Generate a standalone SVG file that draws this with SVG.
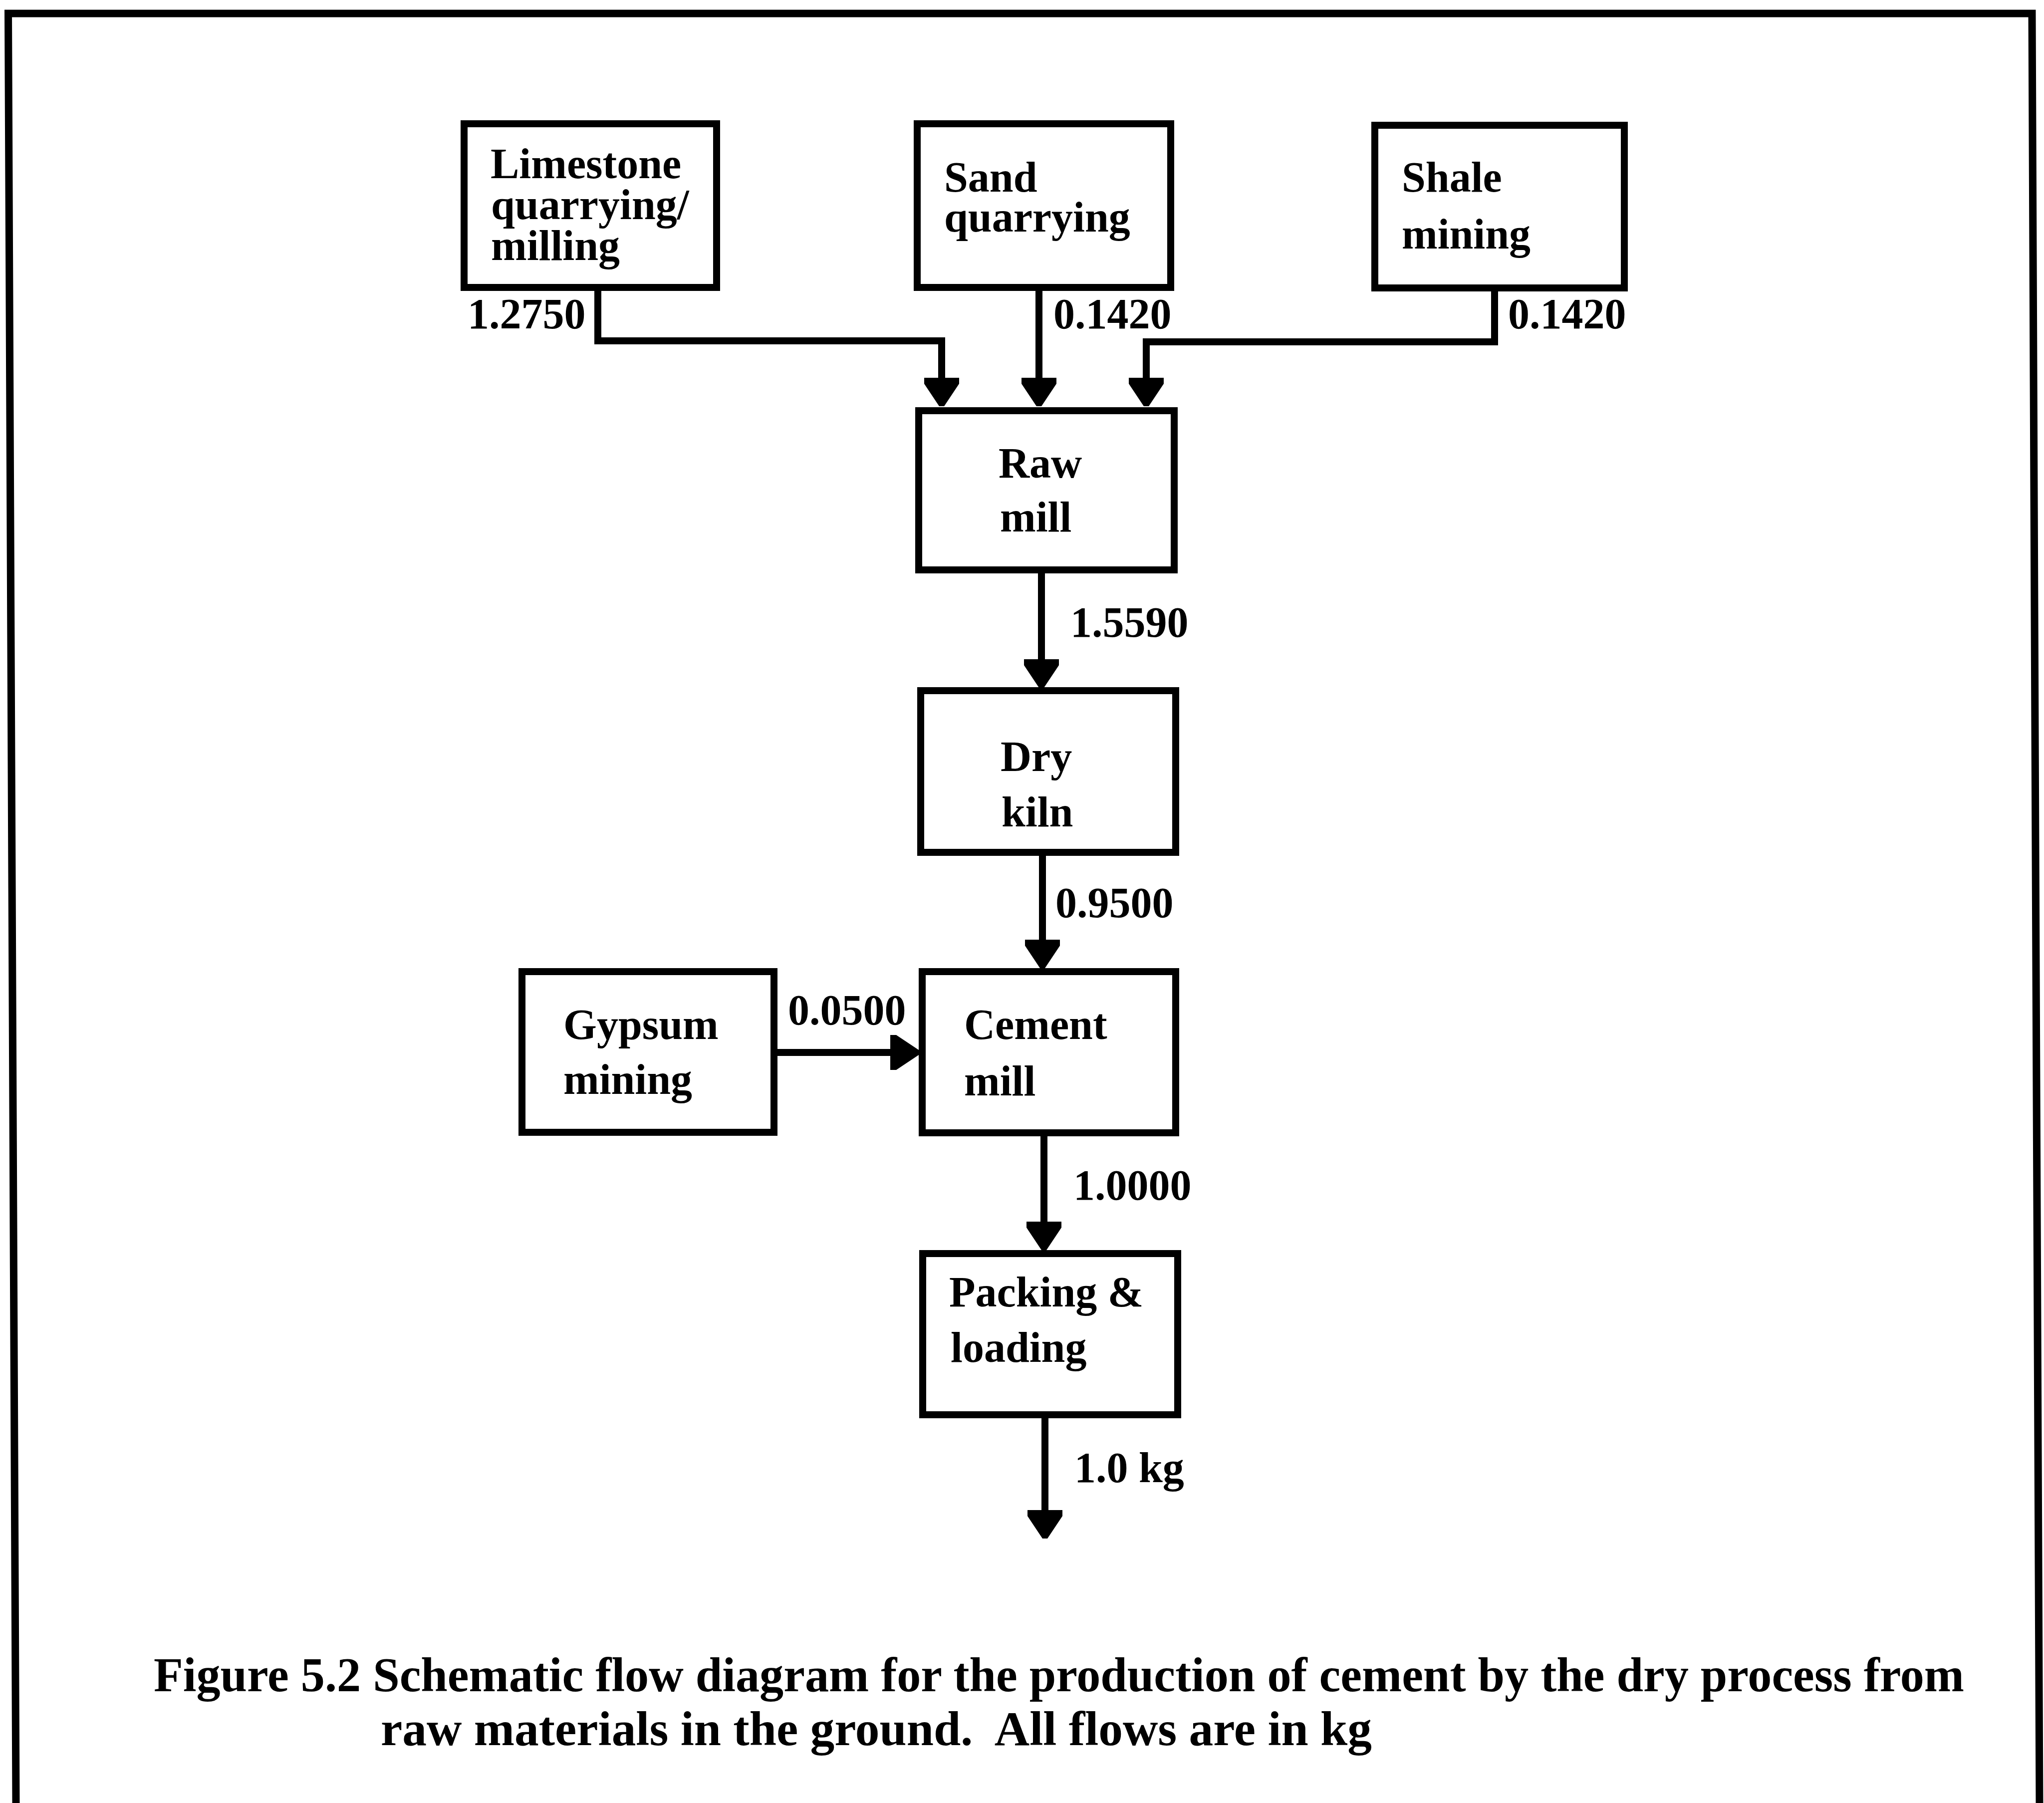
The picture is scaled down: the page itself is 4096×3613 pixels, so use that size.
<svg xmlns="http://www.w3.org/2000/svg" width="4096" height="3613" viewBox="0 0 4096 3613">
<style>
.box{fill:#fff;stroke:#000;stroke-width:14}
.lbl{font-family:"Liberation Serif","Times New Roman",serif;font-weight:bold;font-size:86px;fill:#000}
.cap{font-family:"Liberation Serif","Times New Roman",serif;font-weight:bold;font-size:97px;fill:#000}
.con{fill:none;stroke:#000;stroke-width:14;stroke-linejoin:miter;stroke-linecap:butt}
.frame{fill:none;stroke:#000;stroke-width:15}
</style>
<defs>
<marker id="ah" markerUnits="userSpaceOnUse" orient="auto" viewBox="0 -35 57 70" refX="0" refY="0" markerWidth="57" markerHeight="70">
<path d="M0,-35 L0,35 L12,35 L57,5 L57,-5 L12,-35 Z" fill="#000"/>
</marker>
</defs>
<rect width="4096" height="3613" fill="#fff"/>
<path class="frame" d="M32,3613 L16.5,27 L4072,27 L4087,3613"/>

<g id="limestone">
<rect class="box" x="930" y="248" width="506" height="328"/>
<text class="lbl" x="983" y="357">Limestone</text>
<text class="lbl" x="984" y="439">quarrying/</text>
<text class="lbl" x="984" y="521">milling</text>
</g>
<g id="sand">
<rect class="box" x="1838" y="248" width="508" height="328"/>
<text class="lbl" x="1892" y="384">Sand</text>
<text class="lbl" x="1892" y="464">quarrying</text>
</g>
<g id="shale">
<rect class="box" x="2755" y="251" width="500" height="326"/>
<text class="lbl" x="2809" y="384">Shale</text>
<text class="lbl" x="2809" y="498">mining</text>
</g>
<g id="rawmill">
<rect class="box" x="1841" y="823" width="512" height="319"/>
<text class="lbl" x="2001" y="957">Raw</text>
<text class="lbl" x="2004" y="1065">mill</text>
</g>
<g id="drykiln">
<rect class="box" x="1845" y="1384" width="511" height="324"/>
<text class="lbl" x="2005" y="1545">Dry</text>
<text class="lbl" x="2007" y="1656">kiln</text>
</g>
<g id="gypsum">
<rect class="box" x="1046" y="1947" width="505" height="322"/>
<text class="lbl" x="1129" y="2082">Gypsum</text>
<text class="lbl" x="1129" y="2192">mining</text>
</g>
<g id="cementmill">
<rect class="box" x="1848" y="1947" width="508" height="323"/>
<text class="lbl" x="1932" y="2082">Cement</text>
<text class="lbl" x="1932" y="2195">mill</text>
</g>
<g id="packing">
<rect class="box" x="1849" y="2512" width="511" height="323"/>
<text class="lbl" x="1902" y="2618">Packing &amp;</text>
<text class="lbl" x="1905" y="2729">loading</text>
</g>

<g id="connectors">
<path class="con" d="M1198,583 V683 H1887 V757" marker-end="url(#ah)"/>
<path class="con" d="M2082,583 V757" marker-end="url(#ah)"/>
<path class="con" d="M2995,584 V685 H2297 V757" marker-end="url(#ah)"/>
<path class="con" d="M2087,1149 V1321" marker-end="url(#ah)"/>
<path class="con" d="M2089,1715 V1883" marker-end="url(#ah)"/>
<path class="con" d="M1558,2109 H1784" marker-end="url(#ah)"/>
<path class="con" d="M2092,2277 V2448" marker-end="url(#ah)"/>
<path class="con" d="M2094,2842 V3026" marker-end="url(#ah)"/>
<text class="lbl" x="937" y="658">1.2750</text>
<text class="lbl" x="2111" y="658">0.1420</text>
<text class="lbl" x="3022" y="658">0.1420</text>
<text class="lbl" x="2145" y="1276">1.5590</text>
<text class="lbl" x="2115" y="1838">0.9500</text>
<text class="lbl" x="1579" y="2053">0.0500</text>
<text class="lbl" x="2151" y="2404">1.0000</text>
<text class="lbl" x="2153" y="2970">1.0 kg</text>
</g>

<g id="caption">
<text class="cap" x="308" y="3389" textLength="3628" lengthAdjust="spacingAndGlyphs">Figure 5.2 Schematic flow diagram for the production of cement by the dry process from</text>
<text class="cap" x="763" y="3497" textLength="1986" lengthAdjust="spacingAndGlyphs" xml:space="preserve">raw materials in the ground.  All flows are in kg</text>
</g>
</svg>
